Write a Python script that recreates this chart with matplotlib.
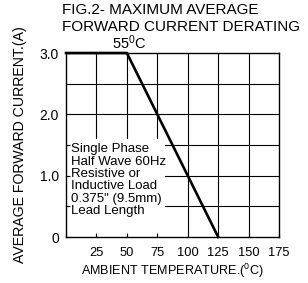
import matplotlib

matplotlib.use("Agg")
import matplotlib.pyplot as plt
from matplotlib.patches import Rectangle

plt.rcParams["font.family"] = ["Liberation Sans", "DejaVu Sans"]
plt.rcParams["mathtext.fontset"] = "custom"
plt.rcParams["mathtext.rm"] = "Liberation Sans"
plt.rcParams["mathtext.it"] = "Liberation Sans"

# derating curve (ambient temp in degC, average forward current in A)
temp_c = [0, 50, 125]
current_a = [3.0, 3.0, 0.0]

x_ticks = [0, 25, 50, 75, 100, 125, 150, 175]
x_labels = ["", "25", "50", "75", "100", "125", "150", "175"]
y_grid = [0.5, 1.0, 1.5, 2.0, 2.5]
y_ticks = [0, 1.0, 2.0, 3.0]
y_labels = ["0", "1.0", "2.0", "3.0"]

note_lines = [
    "Single Phase",
    "Half Wave 60Hz",
    "Resistive or",
    "Inductive Load",
    "0.375\" (9.5mm)",
    "Lead Length",
]

fig = plt.figure(figsize=(3.08, 2.83), dpi=100)
ax = fig.add_axes([0.2143, 0.1625, 0.6917, 0.6502])
ax.set_xlim(0, 175)
ax.set_ylim(0, 3.0)

# grid drawn by hand so the note box can hide part of it but not the ticks
ax.vlines(x_ticks[1:-1], 0, 3.0, colors="black", linewidth=0.8, zorder=0.8)
ax.hlines(y_grid, 0, 175, colors="black", linewidth=0.8, zorder=0.8)
ax.add_patch(Rectangle((0, 0), 81, 1.59, facecolor="white", edgecolor="none", zorder=1))

ax.plot(temp_c, current_a, color="black", linewidth=1.9, zorder=3, clip_on=False)

for sp in ax.spines.values():
    sp.set_linewidth(1.0)
ax.set_xticks(x_ticks)
ax.set_xticklabels(x_labels, fontsize=9.3)
ax.set_yticks(y_ticks)
ax.set_yticklabels(y_labels, fontsize=10)
ax.set_yticks([0.5, 1.5], minor=True)
ax.tick_params(axis="both", which="both", direction="in", length=3, width=0.8, pad=5)
ax.tick_params(axis="x", pad=7)

ax.set_xlabel(r"AMBIENT TEMPERATURE.($^0$C)", fontsize=9.1, labelpad=2)
ax.set_ylabel("AVERAGE FORWARD CURRENT.(A)", fontsize=10.2, labelpad=9)

ax.text(4.5, 1.53, "\n".join(note_lines), fontsize=9.5, va="top", ha="left",
        linespacing=1.04, zorder=2)

ax.annotate(r"55$^0$C", xy=(50, 3.0), xytext=(2, 3), textcoords="offset points",
            ha="center", va="baseline", fontsize=10.5)

fig.text(0.2, 0.966, "FIG.2- MAXIMUM AVERAGE", fontsize=11, ha="left", va="center")
fig.text(0.2, 0.905, "FORWARD CURRENT DERATING", fontsize=11, ha="left", va="center")

fig.savefig("out.png", dpi=100)
